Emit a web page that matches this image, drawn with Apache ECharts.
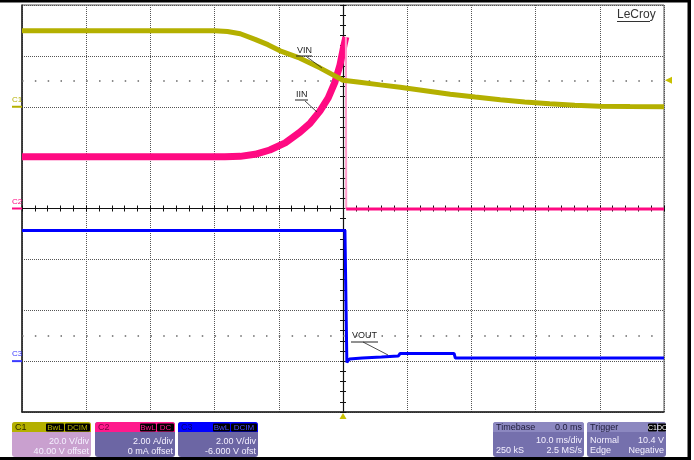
<!DOCTYPE html>
<html>
<head>
<meta charset="utf-8">
<script src="https://cdn.jsdelivr.net/npm/echarts@6/dist/echarts.min.js"></script>
<style>
  html, body { margin: 0; padding: 0; background: #fff; }
  #scope { width: 694px; height: 460px; }
</style>
</head>
<body>
<div id="scope"></div>
<script>
// Time base: 10 ms/div, trigger at 0 ms
const vinTime  = [-50, -20, -18, -16, -13.7, -11.7, -9.8, -6.7, -3.6, 0, 2.6, 5.8, 8.9, 12.8, 16.7, 20.6, 24.5, 28.3, 32.2, 36.1, 40, 44.7, 50];
const vinVolts = [29.9, 29.9, 29.6, 28.7, 26.5, 24.4, 22.0, 19.1, 15.3, 10.4, 9.6, 8.6, 7.7, 6.3, 4.9, 3.8, 2.75, 1.9, 1.2, 0.6, 0.2, 0.05, 0];

const iinRiseTime = [-50, -18.4, -16, -13.7, -11.4, -9.0, -6.7, -5.1, -3.6, -2.3, -1.25, -0.47, 0.16, 0.45];
const iinRiseAmps = [2.03, 2.03, 2.05, 2.13, 2.3, 2.58, 3.0, 3.36, 3.83, 4.35, 4.97, 5.64, 6.43, 6.74];
const iinAfterTime = [0.5, 50];
const iinAfterAmps = [-0.02, -0.02];

const voutTime  = [-50, 0.3, 0.6, 1.0, 3.0, 6.0, 8.6, 8.9, 17.3, 17.5, 50];
const voutVolts = [5.14, 5.14, -0.05, 0.08, 0.12, 0.16, 0.2, 0.3, 0.3, 0.12, 0.12];

// Channel settings
const c1Scale = { perDiv: 20, offset: 40 };   // V
const c2Scale = { perDiv: 2, offset: 0 };     // A
const c3Scale = { perDiv: 2, offset: -6 };    // V
const triggerLevel = 10.4;                    // V on C1

const FONT = '"Liberation Sans", Arial, sans-serif';
const COL_C1 = '#b4b000';
const COL_C2 = '#ff0a82';
const COL_C3 = '#0000ff';

function zip(a, b) { return a.map((v, i) => [v, b[i]]); }
function chRange(s) {
  const center = -s.offset;
  return { min: center - 4 * s.perDiv, max: center + 4 * s.perDiv };
}

const chart = echarts.init(document.getElementById('scope'), null, { renderer: 'canvas' });

const gridLine = { show: true, lineStyle: { color: '#555', width: 1, type: [1, 1] } };
const off = { show: false };

const r1 = chRange(c1Scale), r2 = chRange(c2Scale), r3 = chRange(c3Scale);

const option = {
  animation: false,
  backgroundColor: '#fff',
  grid: { left: 22, top: 5, width: 642, height: 407, show: true, borderColor: '#555', borderWidth: 1 },
  xAxis: [
    { type: 'value', min: -50, max: 50, interval: 10, position: 'bottom',
      axisLine: { show: true, onZero: false, lineStyle: { color: '#222', width: 1.5 } },
      axisTick: off, axisLabel: off, splitLine: gridLine },
    { type: 'value', min: -50, max: 50, interval: 2, position: 'bottom',
      axisLine: { show: true, onZero: true, onZeroAxisIndex: 3, lineStyle: { color: '#111', width: 1.2 } },
      axisTick: { show: true, inside: true, length: 3, lineStyle: { color: '#111', width: 1 } },
      axisLabel: off, splitLine: off },
    { type: 'value', min: -50, max: 50, interval: 2, position: 'bottom',
      axisLine: { show: false, onZero: true, onZeroAxisIndex: 3 },
      axisTick: { show: true, inside: false, length: 3, lineStyle: { color: '#111', width: 1 } },
      axisLabel: off, splitLine: off }
  ],
  yAxis: [
    { type: 'value', min: r1.min, max: r1.max, interval: c1Scale.perDiv, position: 'left',
      axisLine: { show: true, onZero: false, lineStyle: { color: '#222', width: 1.5 } },
      axisTick: off, axisLabel: off, splitLine: gridLine },
    { type: 'value', min: r2.min, max: r2.max, show: false },
    { type: 'value', min: r3.min, max: r3.max, show: false },
    { type: 'value', min: -20, max: 20, interval: 1, position: 'left',
      axisLine: { show: true, onZero: true, onZeroAxisIndex: 0, lineStyle: { color: '#111', width: 1.2 } },
      axisTick: { show: true, inside: true, length: 3, lineStyle: { color: '#111', width: 1 } },
      axisLabel: off, splitLine: off },
    { type: 'value', min: -20, max: 20, interval: 1, position: 'left',
      axisLine: { show: false, onZero: true, onZeroAxisIndex: 0 },
      axisTick: { show: true, inside: false, length: 3, lineStyle: { color: '#111', width: 1 } },
      axisLabel: off, splitLine: off }
  ],
  series: [
    { name: 'VOUT', type: 'line', xAxisIndex: 0, yAxisIndex: 2, showSymbol: false, z: 3,
      data: zip(voutTime, voutVolts), lineStyle: { color: COL_C3, width: 3 } },
    { name: 'IIN', type: 'line', xAxisIndex: 0, yAxisIndex: 1, showSymbol: false, z: 4,
      data: zip(iinRiseTime, iinRiseAmps), lineStyle: { color: COL_C2, width: 7 } },
    { name: 'IIN edge', type: 'line', xAxisIndex: 0, yAxisIndex: 1, showSymbol: false, z: 4,
      data: [[iinRiseTime[iinRiseTime.length - 1], iinRiseAmps[iinRiseAmps.length - 1]], [iinAfterTime[0], iinAfterAmps[0]]],
      lineStyle: { color: '#ff9ccb', width: 2 } },
    { name: 'IIN after', type: 'line', xAxisIndex: 0, yAxisIndex: 1, showSymbol: false, z: 4,
      data: zip(iinAfterTime, iinAfterAmps), lineStyle: { color: COL_C2, width: 3 },
      markLine: { silent: true, symbol: 'none', label: off,
        lineStyle: { color: '#666', width: 1.5, type: [1.5, 11.34] },
        data: [{ yAxis: -2.5 * c2Scale.perDiv }] } },
    { name: 'VIN', type: 'line', xAxisIndex: 0, yAxisIndex: 0, showSymbol: false, z: 5,
      data: zip(vinTime, vinVolts), lineStyle: { color: COL_C1, width: 5 },
      markLine: { silent: true, symbol: 'none', label: off,
        lineStyle: { color: '#666', width: 1.5, type: [1.5, 11.34] },
        data: [{ yAxis: triggerLevel }] } }
  ]
};
chart.setOption(option);

// ---- overlay: channel markers, trigger markers, labels, info panels ----
function px(yIdx, t, v) { return chart.convertToPixel({ xAxisIndex: 0, yAxisIndex: yIdx }, [t, v]); }

const g = [];
function text(x, y, s, fill, size, align, extra) {
  g.push(Object.assign({ type: 'text', silent: true, z: 100,
    style: { text: s, x: x, y: y, fill: fill, font: (size || 9) + 'px ' + FONT,
             textAlign: align || 'left', textVerticalAlign: 'middle' } }, extra || {}));
}
function line(x1, y1, x2, y2, stroke, w) {
  g.push({ type: 'line', silent: true, z: 100, shape: { x1, y1, x2, y2 }, style: { stroke: stroke, lineWidth: w || 1 } });
}
function rect(x, y, w, h, fill, r) {
  g.push({ type: 'rect', silent: true, z: 99, shape: { x, y, width: w, height: h, r: r || 0 }, style: { fill: fill } });
}

// Ground markers on the left edge
[[0, c1Scale, 'C1', COL_C1], [1, c2Scale, 'C2', COL_C2], [2, c3Scale, 'C3', '#3a3aff']].forEach(([idx, s, name, col]) => {
  const p = px(idx, -50, 0);
  line(12, p[1], p[0], p[1], col, 2);
  text(12, p[1] - 7, name, col, 8);
});

// Trigger level (right) and trigger time (bottom) markers
const tl = px(0, 50, triggerLevel);
g.push({ type: 'polygon', silent: true, z: 100, shape: { points: [[tl[0] + 1, tl[1]], [tl[0] + 8, tl[1] - 3.5], [tl[0] + 8, tl[1] + 3.5]] }, style: { fill: '#c8c000' } });
const tt = px(0, 0, r1.min);
g.push({ type: 'polygon', silent: true, z: 100, shape: { points: [[tt[0], tt[1] + 1], [tt[0] - 3.5, tt[1] + 7], [tt[0] + 3.5, tt[1] + 7]] }, style: { fill: '#c8c000' } });

// Trace labels with leader lines
text(297, 51, 'VIN', '#222', 9);
line(296, 56, 312, 56, '#222', 1);
line(307, 57, 322, 68, '#222', 0.8);
text(296, 95, 'IIN', '#222', 9);
line(295, 100, 308, 100, '#222', 1);
line(305, 101, 317, 112, '#222', 0.8);
text(352, 336, 'VOUT', '#222', 9);
line(351, 342, 378, 342, '#222', 1);
line(363, 342, 388, 355, '#222', 0.8);

// Logo
text(617, 15, 'LeCroy', '#333', 12);
line(617, 21.5, 650, 21.5, '#333', 1);

// Frame
rect(0, 0, 691, 2.5, '#000');
rect(687.5, 0, 3.5, 460, '#000');
rect(0, 457, 691, 3, '#000');

// Channel info panels
function chanPanel(x, w, name, headCol, nameCol, bodyCol, tags, row1, row2) {
  rect(x, 422, w, 35, bodyCol, 3);
  rect(x, 422, w, 10, headCol, [3, 3, 0, 0]);
  text(x + 3, 427.5, name, nameCol, 9);
  let tx = x + w - 1;
  for (let i = tags.length - 1; i >= 0; i--) {
    const tw = tags[i].w;
    tx -= tw;
    rect(tx, 423.5, tw, 8, '#000', 1);
    text(tx + tw / 2, 427.8, tags[i].t, headCol === '#0000ff' ? '#4a4aff' : headCol, 8, 'center');
    tx -= 1;
  }
  text(x + w - 2, 441.5, row1, '#f4f0ff', 9, 'right');
  text(x + w - 2, 451.5, row2, '#f4f0ff', 9, 'right');
}
chanPanel(12, 79, 'C1', '#b4b000', '#2b2900', '#c9a0cf', [{ t: 'BwL', w: 18 }, { t: 'DCIM', w: 25 }], '20.0 V/div', '40.00 V offset');
chanPanel(95, 80, 'C2', '#ff1a8c', '#7a0040', '#6c66a4', [{ t: 'BwL', w: 16 }, { t: 'DC', w: 17 }], '2.00 A/div', '0 mA offset');
chanPanel(178, 80, 'C3', '#0000ff', '#000070', '#6c66a4', [{ t: 'BwL', w: 17 }, { t: 'DCIM', w: 26 }], '2.00 V/div', '-6.000 V ofst');

// Timebase panel
rect(493, 422, 91, 35, '#7570ad', 3);
rect(493, 422, 91, 10, '#8c88c0', [3, 3, 0, 0]);
text(496, 427.5, 'Timebase', '#1e1c3a', 9);
text(582, 427.5, '0.0 ms', '#1e1c3a', 9, 'right');
text(582, 440.5, '10.0 ms/div', '#f4f0ff', 9, 'right');
text(496, 450.5, '250 kS', '#f4f0ff', 9);
text(582, 450.5, '2.5 MS/s', '#f4f0ff', 9, 'right');

// Trigger panel
rect(587, 422, 79, 35, '#7570ad', 3);
rect(587, 422, 79, 10, '#8c88c0', [3, 3, 0, 0]);
text(590, 427.5, 'Trigger', '#1e1c3a', 9);
rect(648, 423.5, 9, 8, '#000', 1);
text(652.5, 427.8, 'C1', '#fff', 7, 'center');
rect(658, 423.5, 8, 8, '#000', 1);
text(662, 427.8, 'DC', '#fff', 7, 'center');
text(590, 440.5, 'Normal', '#f4f0ff', 9);
text(664, 440.5, '10.4 V', '#f4f0ff', 9, 'right');
text(590, 450.5, 'Edge', '#f4f0ff', 9);
text(664, 450.5, 'Negative', '#f4f0ff', 9, 'right');

chart.setOption({ graphic: g });
</script>
</body>
</html>
